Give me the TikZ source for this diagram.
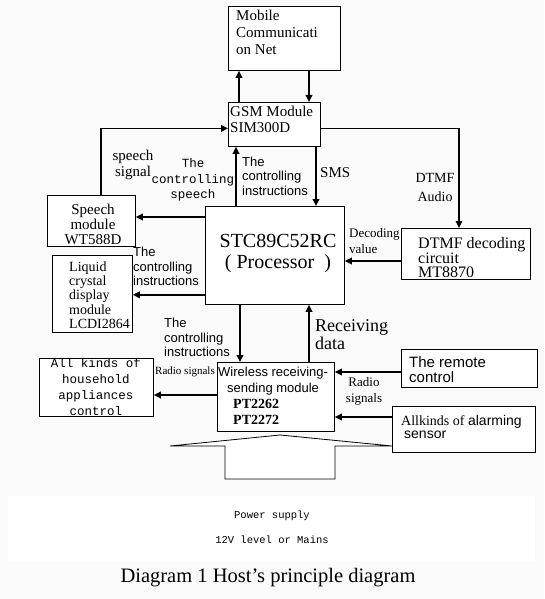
\documentclass[tikz,border=0pt]{standalone}
\usepackage{fontspec}
\setmainfont{Liberation Serif}
\setsansfont{Liberation Sans}
\setmonofont{Liberation Mono}
\usetikzlibrary{arrows.meta}
\newcommand{\fs}[2]{\fontsize{#1}{#2}\selectfont}
\begin{document}
\begin{tikzpicture}[x=1pt,y=-1pt,
  box/.style={draw, line width=0.8pt, fill=white, inner sep=0pt, anchor=north west},
  arr/.style={line width=1.8pt, -{Triangle[length=7pt,width=6.5pt]}},
  tl/.style={inner sep=0pt, anchor=west, align=left},
  tc/.style={inner sep=0pt, anchor=center, align=center}]
\fill[gray!4] (0,0) rectangle (544,599);
\useasboundingbox (0,0) rectangle (544,599);
% power band
\node[fill=white, inner sep=0pt, anchor=north west, minimum width=527pt, minimum height=66pt] (pwr) at (8,496) {};
% boxes
\node[box, minimum width=112pt, minimum height=64pt] (mob) at (228,6) {};
\node[box, minimum width=92pt, minimum height=44pt] (gsm) at (228,102) {};
\node[box, minimum width=88pt, minimum height=51pt] (spm) at (47,195) {};
\node[box, minimum width=80pt, minimum height=77pt] (lcd) at (52,255) {};
\node[box, minimum width=139pt, minimum height=98pt] (cpu) at (205,206) {};
\node[box, minimum width=129pt, minimum height=51pt] (dtmf) at (401,228) {};
\node[box, minimum width=117pt, minimum height=69pt] (wl) at (217,362) {};
\node[box, minimum width=114pt, minimum height=58pt] (app) at (39,358) {};
\node[box, minimum width=136pt, minimum height=38pt] (rem) at (401,349) {};
\node[box, minimum width=143pt, minimum height=46pt] (alm) at (392,406) {};
% big power arrow
\draw[line width=0.8pt, fill=white] (170,446) -- (280,435) -- (392,446) -- (335,446) -- (335,479) -- (225,479) -- (225,446) -- cycle;
% box texts
\node[tl, font=\fs{15}{17}] (tmob) at (236,32) {Mobile\\Communicati\\on Net};
\node[tl, font=\fs{15}{16}] (tgsm) at (230,119) {GSM Module\\SIM300D};
\node[tc, font=\fs{15}{15}] (tspm) at (93,224) {Speech\\module\\WT588D};
\node[tl, font=\fs{14}{14.3}] (tlcd) at (69,295) {Liquid\\crystal\\display\\module\\LCDI2864};
\node[tc, font=\fs{20}{21}] (tcpu) at (278,253.5) {STC89C52RC\\(~Processor~~)};
\node[tl, font=\fs{16}{14.5}] (tdtmf) at (418,258) {DTMF decoding\\circuit\\MT8870};
\node[tl, font=\fs{13}{16}] (twl) at (218,396) {\sffamily Wireless receiving-\\\hspace*{9pt}\sffamily sending module\\\hspace*{15pt}\fontsize{14}{16}\selectfont\bfseries PT2262\\\hspace*{15pt}\fontsize{14}{16}\selectfont\bfseries PT2272};
\node[tc, font=\ttfamily\fs{12.5}{15.7}] (tapp) at (96,387) {All kinds of\\household\\appliances\\control};
\node[tl, font=\sffamily\fs{15}{15.5}] (trem) at (409,369.5) {The remote\\control};
\node[tl, font=\fs{14}{13}] (talm) at (401,426.5) {Allkinds of {\sffamily alarming}\\\hspace*{3pt}\sffamily sensor};
\node[tc, font=\ttfamily\fs{10.5}{25}] (tpwr) at (272,527.5) {Power supply\\12V level or Mains};
\node[tc, font=\fs{20.5}{22}] (cap) at (268,578) {Diagram 1 Host's principle diagram};
% connector labels
\node[tc, font=\fs{15}{16}] (lsig) at (133,165) {speech\\signal};
\node[tc, font=\ttfamily\fs{12.5}{15.5}] (lspeech) at (193,180) {The\\controlling\\speech};
\node[tl, font=\sffamily\fs{13}{14.5}] (lci1) at (242,176.3) {The\\controlling\\instructions};
\node[tl, font=\fs{15}{16}] (lsms) at (320,173) {SMS};
\node[tc, font=\fs{14}{19}] (ldtmf) at (435,187.5) {DTMF\\Audio};
\node[tl, font=\sffamily\fs{13}{14.5}] (lci2) at (133,266.7) {The\\controlling\\instructions};
\node[tl, font=\fs{13}{16}] (ldec) at (349,241.5) {Decoding\\value};
\node[tl, font=\sffamily\fs{13}{14.5}] (lci3) at (164,337.7) {The\\controlling\\instructions};
\node[tl, font=\fs{18}{18}] (lrec) at (315,335) {Receiving\\data};
\node[tl, font=\fs{11}{12}] (lrad1) at (155,372) {Radio signals};
\node[tc, font=\fs{13}{16}] (lrad2) at (364,391) {Radio\\signals};
% connectors
\draw[arr] ([xshift=11pt]gsm.north west) -- ([xshift=11pt]gsm.north west |- mob.south);
\draw[arr] ([xshift=81pt]mob.south west) -- ([xshift=81pt]mob.south west |- gsm.north);
\draw[arr] ([xshift=54pt]spm.north west) |- ([yshift=-4pt]gsm.west);
\draw[line width=1.2pt, -{Triangle[length=7pt,width=6.5pt]}] ([yshift=-4pt]gsm.east) -| ([xshift=58pt]dtmf.north west);
\draw[arr] ([xshift=31pt]cpu.north west) -- ([xshift=31pt]cpu.north west |- gsm.south);
\draw[arr] ([xshift=88pt]gsm.south west) -- ([xshift=88pt]gsm.south west |- cpu.north);
\draw[arr] ([yshift=-11pt]cpu.north west) -- ([yshift=-11pt]cpu.north west -| spm.east);
\draw[arr] ([yshift=10pt]cpu.south west) -- ([yshift=10pt]cpu.south west -| lcd.east);
\draw[arr] ([yshift=-33pt]dtmf.north west) -- ([yshift=-33pt]dtmf.north west -| cpu.east);
\draw[arr] ([xshift=35pt]cpu.south west) -- ([xshift=35pt]cpu.south west |- wl.north);
\draw[arr] ([xshift=92pt]wl.north west) -- ([xshift=92pt]wl.north west |- cpu.south);
\draw[arr] ([yshift=-33pt]wl.north west) -- ([yshift=-33pt]wl.north west -| app.east);
\draw[arr] ([yshift=-23pt]rem.north west) -- ([yshift=-23pt]rem.north west -| wl.east);
\draw[arr] ([yshift=-11pt]alm.north west) -- ([yshift=-11pt]alm.north west -| wl.east);
\end{tikzpicture}
\end{document}
